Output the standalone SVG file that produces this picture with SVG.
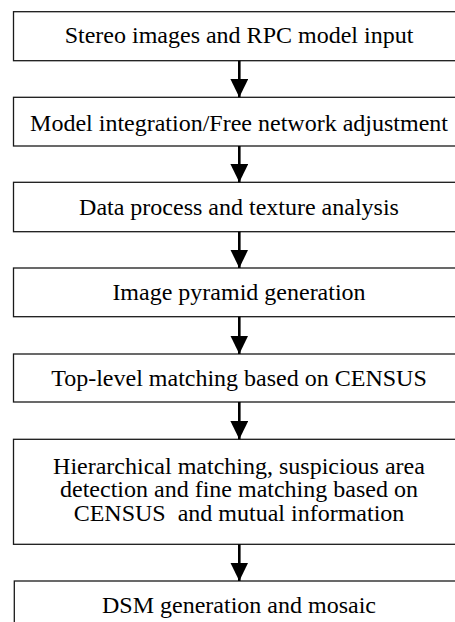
<svg xmlns="http://www.w3.org/2000/svg" width="455" height="622" viewBox="0 0 455 622">
  <style>
    .box { fill: #ffffff; stroke: #1a1a1a; stroke-width: 1.3; }
    .lbl { font-family: 'Liberation Serif', Tinos, 'Times New Roman', Times, 'DejaVu Serif', serif; font-size: 24px; fill: #000; text-anchor: middle; }
    .conn { stroke: #000; stroke-width: 2.6; fill: none; marker-end: url(#arrow); }
  </style>
  <defs>
    <marker id="arrow" markerUnits="userSpaceOnUse" markerWidth="19" markerHeight="18" refX="18.5" refY="9" orient="auto" viewBox="0 0 19 18">
      <path d="M0,0 L18.5,9 L0,18 Z" fill="#000"/>
    </marker>
  </defs>
  <rect width="455" height="622" fill="#ffffff"/>

  <g id="n1">
    <rect class="box" x="13.5" y="11.7" width="453" height="49"/>
    <text class="lbl" x="239" y="43" font-family="Liberation Serif, serif">Stereo images and RPC model input</text>
  </g>
  <g id="n2">
    <rect class="box" x="13.5" y="97.3" width="453" height="48.7"/>
    <text class="lbl" x="239" y="130.5">Model integration/Free network adjustment</text>
  </g>
  <g id="n3">
    <rect class="box" x="13.5" y="182.3" width="453" height="49.4"/>
    <text class="lbl" x="239" y="214.5">Data process and texture analysis</text>
  </g>
  <g id="n4">
    <rect class="box" x="13.5" y="268" width="453" height="48.7"/>
    <text class="lbl" x="239" y="300">Image pyramid generation</text>
  </g>
  <g id="n5">
    <rect class="box" x="13.5" y="354" width="453" height="48"/>
    <text class="lbl" x="239" y="386">Top-level matching based on CENSUS</text>
  </g>
  <g id="n6">
    <rect class="box" x="13.5" y="439.3" width="453" height="105"/>
    <text class="lbl" x="239" y="473.5">Hierarchical matching, suspicious area</text>
    <text class="lbl" x="239" y="497">detection and fine matching based on</text>
    <text class="lbl" x="239" y="520.5" xml:space="preserve">CENSUS  and mutual information</text>
  </g>
  <g id="n7">
    <rect class="box" x="14.3" y="581" width="452" height="60"/>
    <text class="lbl" x="239" y="612.5">DSM generation and mosaic</text>
  </g>

  <g id="connectors">
    <line class="conn" x1="239.3" y1="60.7" x2="239.3" y2="97.3"/>
    <line class="conn" x1="239.3" y1="146" x2="239.3" y2="182.3"/>
    <line class="conn" x1="239.3" y1="231.7" x2="239.3" y2="268"/>
    <line class="conn" x1="239.3" y1="316.7" x2="239.3" y2="354"/>
    <line class="conn" x1="239.3" y1="402" x2="239.3" y2="439.3"/>
    <line class="conn" x1="239.3" y1="544.3" x2="239.3" y2="581"/>
  </g>
</svg>
